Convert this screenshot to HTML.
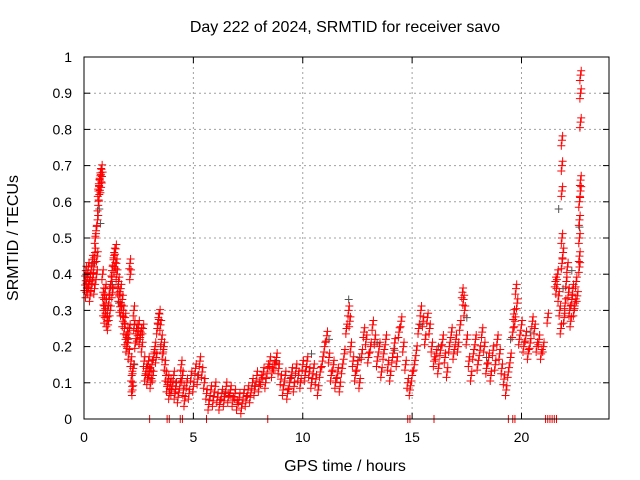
<!DOCTYPE html>
<html><head><meta charset="utf-8"><style>
body{margin:0;background:#fff;}
svg{display:block;font-family:"Liberation Sans",sans-serif;}
</style></head><body>
<svg id="chart" width="640" height="480" viewBox="0 0 640 480">
<text x="345" y="32" font-size="16" text-anchor="middle" fill="#000">Day 222 of 2024, SRMTID for receiver savo</text>
<text x="345" y="471" font-size="16" text-anchor="middle">GPS time / hours</text>
<text x="18" y="238" font-size="16" text-anchor="middle" transform="rotate(-90 18 238)">SRMTID / TECUs</text>
<g id="grid"></g><g id="marks"></g><g id="axes"></g>
</svg>
<script>
const xTicks=[0,5,10,15,20];
const yTicks=[0,0.1,0.2,0.3,0.4,0.5,0.6,0.7,0.8,0.9,1];
const yTickLabels=["0","0.1","0.2","0.3","0.4","0.5","0.6","0.7","0.8","0.9","1"];
const redPts=[[0.05,0.37],[0.08,0.41],[0.1,0.35],[0.15,0.39],[0.18,0.36],[0.2,0.42],[0.25,0.38],[0.28,0.34],[0.3,0.4],[0.35,0.37],[0.38,0.44],[0.4,0.39],[0.45,0.42],[0.48,0.36],[0.5,0.46],[0.52,0.5],[0.55,0.52],[0.58,0.4],[0.6,0.45],[0.62,0.55],[0.65,0.59],[0.66,0.63],[0.68,0.65],[0.7,0.62],[0.72,0.66],[0.75,0.68],[0.78,0.64],[0.8,0.69],[0.82,0.67],[0.85,0.4],[0.88,0.35],[0.9,0.3],[0.92,0.33],[0.95,0.28],[0.98,0.36],[1.0,0.32],[1.05,0.27],[1.08,0.3],[1.1,0.26],[1.15,0.33],[1.18,0.36],[1.2,0.3],[1.25,0.38],[1.28,0.41],[1.3,0.35],[1.35,0.44],[1.38,0.46],[1.4,0.42],[1.45,0.47],[1.48,0.43],[1.5,0.4],[1.55,0.36],[1.58,0.38],[1.6,0.34],[1.65,0.31],[1.68,0.36],[1.7,0.3],[1.75,0.33],[1.78,0.27],[1.8,0.3],[1.85,0.25],[1.88,0.28],[1.9,0.22],[1.95,0.2],[1.98,0.24],[2.0,0.21],[2.05,0.18],[2.08,0.25],[2.1,0.43],[2.12,0.4],[2.15,0.16],[2.18,0.12],[2.2,0.09],[2.22,0.08],[2.25,0.14],[2.28,0.3],[2.3,0.26],[2.35,0.21],[2.4,0.25],[2.45,0.23],[2.5,0.26],[2.55,0.22],[2.6,0.24],[2.65,0.2],[2.7,0.25],[2.75,0.16],[2.8,0.12],[2.85,0.14],[2.9,0.11],[2.95,0.16],[3.0,0.13],[3.05,0.1],[3.1,0.15],[3.15,0.12],[3.2,0.18],[3.25,0.2],[3.3,0.17],[3.35,0.25],[3.4,0.28],[3.45,0.29],[3.5,0.26],[3.55,0.22],[3.6,0.18],[3.65,0.2],[3.7,0.15],[3.75,0.12],[3.8,0.09],[3.85,0.11],[3.9,0.07],[3.95,0.1],[4.0,0.08],[4.1,0.12],[4.15,0.07],[4.2,0.09],[4.3,0.06],[4.4,0.1],[4.45,0.15],[4.5,0.12],[4.55,0.08],[4.6,0.05],[4.7,0.1],[4.8,0.07],[4.9,0.12],[5.0,0.09],[5.1,0.14],[5.2,0.11],[5.3,0.16],[5.4,0.13],[5.5,0.1],[5.6,0.07],[5.7,0.04],[5.8,0.08],[5.9,0.05],[6.0,0.09],[6.1,0.06],[6.2,0.04],[6.3,0.07],[6.4,0.05],[6.5,0.09],[6.6,0.06],[6.7,0.08],[6.8,0.05],[6.9,0.07],[7.0,0.04],[7.1,0.06],[7.2,0.03],[7.3,0.07],[7.4,0.05],[7.5,0.08],[7.6,0.06],[7.7,0.1],[7.8,0.08],[7.9,0.12],[8.0,0.09],[8.1,0.11],[8.2,0.13],[8.3,0.1],[8.4,0.14],[8.5,0.16],[8.6,0.13],[8.7,0.15],[8.8,0.17],[8.9,0.14],[9.0,0.11],[9.1,0.08],[9.2,0.12],[9.3,0.07],[9.4,0.1],[9.5,0.13],[9.6,0.09],[9.7,0.14],[9.8,0.12],[9.9,0.1],[10.0,0.15],[10.1,0.12],[10.2,0.16],[10.3,0.13],[10.4,0.1],[10.5,0.14],[10.6,0.11],[10.7,0.08],[10.8,0.13],[10.9,0.16],[11.0,0.2],[11.1,0.23],[11.2,0.17],[11.3,0.12],[11.4,0.15],[11.5,0.1],[11.6,0.13],[11.7,0.09],[11.8,0.14],[11.9,0.18],[12.0,0.25],[12.1,0.3],[12.15,0.27],[12.2,0.2],[12.3,0.16],[12.4,0.12],[12.5,0.15],[12.6,0.1],[12.7,0.18],[12.8,0.24],[12.9,0.22],[13.0,0.17],[13.1,0.2],[13.2,0.26],[13.3,0.22],[13.4,0.16],[13.5,0.2],[13.6,0.13],[13.7,0.18],[13.8,0.22],[13.9,0.15],[14.0,0.12],[14.1,0.17],[14.2,0.21],[14.3,0.16],[14.4,0.24],[14.5,0.27],[14.6,0.2],[14.7,0.15],[14.8,0.1],[14.9,0.08],[15.0,0.12],[15.1,0.15],[15.2,0.19],[15.3,0.25],[15.4,0.3],[15.5,0.27],[15.6,0.22],[15.7,0.28],[15.8,0.25],[15.9,0.2],[16.0,0.16],[16.1,0.18],[16.2,0.14],[16.3,0.19],[16.4,0.22],[16.5,0.17],[16.6,0.13],[16.7,0.2],[16.8,0.24],[16.9,0.18],[17.0,0.22],[17.1,0.2],[17.2,0.26],[17.3,0.35],[17.35,0.33],[17.4,0.3],[17.5,0.22],[17.6,0.16],[17.7,0.12],[17.8,0.18],[17.9,0.22],[18.0,0.15],[18.1,0.19],[18.2,0.24],[18.3,0.2],[18.4,0.14],[18.5,0.17],[18.6,0.12],[18.7,0.19],[18.8,0.15],[18.9,0.22],[19.0,0.18],[19.1,0.14],[19.2,0.11],[19.3,0.08],[19.4,0.13],[19.5,0.17],[19.6,0.24],[19.65,0.29],[19.7,0.27],[19.75,0.36],[19.8,0.32],[19.9,0.22],[20.0,0.26],[20.1,0.2],[20.2,0.23],[20.3,0.18],[20.4,0.21],[20.5,0.27],[20.6,0.25],[20.7,0.2],[20.8,0.22],[20.9,0.18],[21.0,0.2],[21.2,0.28],[21.55,0.38],[21.6,0.36],[21.65,0.4],[21.7,0.34],[21.75,0.3],[21.8,0.25],[21.85,0.43],[21.9,0.46],[21.95,0.28],[22.0,0.32],[22.05,0.38],[22.1,0.42],[22.15,0.35],[22.2,0.3],[22.25,0.27],[22.3,0.33],[22.35,0.36],[22.4,0.3],[22.45,0.32],[22.5,0.38],[22.55,0.34],[21.85,0.77],[21.85,0.7],[21.85,0.63],[21.85,0.5],[22.7,0.95],[22.7,0.9],[22.7,0.82],[22.7,0.66],[22.7,0.63],[22.65,0.6],[22.65,0.55],[22.65,0.5],[22.65,0.45],[22.65,0.42]];
const greyPts=[[0.1,0.4],[0.4,0.43],[0.7,0.58],[0.75,0.54],[1.0,0.3],[1.3,0.37],[1.6,0.32],[2.0,0.22],[2.3,0.15],[3.0,0.14],[3.5,0.2],[4.2,0.1],[5.2,0.12],[6.4,0.07],[7.8,0.09],[8.8,0.16],[9.5,0.12],[10.4,0.18],[11.2,0.22],[12.1,0.33],[12.6,0.17],[13.4,0.21],[14.2,0.19],[15.4,0.26],[16.2,0.2],[17.5,0.28],[18.4,0.17],[19.5,0.22],[20.4,0.24],[21.7,0.58],[21.9,0.36],[22.3,0.41],[22.65,0.53]];
const zeroRed=[3.0,3.8,3.9,4.4,4.5,5.6,8.4,14.8,14.9,16.0,19.4,19.6,19.7,21.1,21.2,21.3,21.4,21.5,21.6];

const L=84,R=609,T=57,B=419;
const xs=h=>L+h/24*(R-L);
const ys=v=>B-v*(B-T);
const NS="http://www.w3.org/2000/svg";
function mk(tag,parent,attrs){const e=document.createElementNS(NS,tag);for(const k in attrs)e.setAttribute(k,attrs[k]);parent.appendChild(e);return e;}
const grid=document.getElementById('grid'),marks=document.getElementById('marks'),axes=document.getElementById('axes');
yTicks.forEach((v,i)=>{
  if(i>0&&i<yTicks.length-1){const g=mk('line',grid,{x1:L,x2:R,y1:ys(v),y2:ys(v),stroke:'#a0a0a0','stroke-dasharray':'2,3'});
  
  }
  const t=mk('text',axes,{x:L-12,y:ys(v)+5,'font-size':'14','text-anchor':'end'});t.textContent=yTickLabels[i];
  
  
  mk('line',axes,{x1:L,x2:L+6,y1:ys(v),y2:ys(v),stroke:'#000'});
  mk('line',axes,{x1:R,x2:R-6,y1:ys(v),y2:ys(v),stroke:'#000'});
});
xTicks.forEach(h=>{
  if(h>0){const g=mk('line',grid,{x1:xs(h),x2:xs(h),y1:T,y2:B,stroke:'#a0a0a0','stroke-dasharray':'2,3'});
  
  }
  const t=mk('text',axes,{x:xs(h),y:B+23,'font-size':'14','text-anchor':'middle'});t.textContent=String(h);
  
  
  mk('line',axes,{x1:xs(h),x2:xs(h),y1:B,y2:B-6,stroke:'#000'});
  mk('line',axes,{x1:xs(h),x2:xs(h),y1:T,y2:T+6,stroke:'#000'});
});
const frame=mk('rect',axes,{x:L,y:T,width:R-L,height:B-T,fill:'none',stroke:'#000'});


function plus(h,v,c,name){
  const x=xs(h),y=ys(v);
  const p=mk('path',marks,{d:`M${x-4} ${y}H${x+4}M${x} ${y-4}V${y+4}`,stroke:c,'stroke-width':'1','fill':'none'});
  
  
}
greyPts.forEach(p=>plus(p[0],p[1],'#555','grey-point'));
redPts.forEach(p=>plus(p[0],p[1],'#ff0000','red-point'));
redPts.forEach(p=>plus(p[0]+0.03,p[1]+0.012,'#ff0000','red-point'));
redPts.forEach(p=>plus(p[0]-0.03,p[1]-0.015,'#ff0000','red-point'));
zeroRed.forEach(h=>plus(h,0,'#ff0000','zero-point'));
</script>
</body></html>
